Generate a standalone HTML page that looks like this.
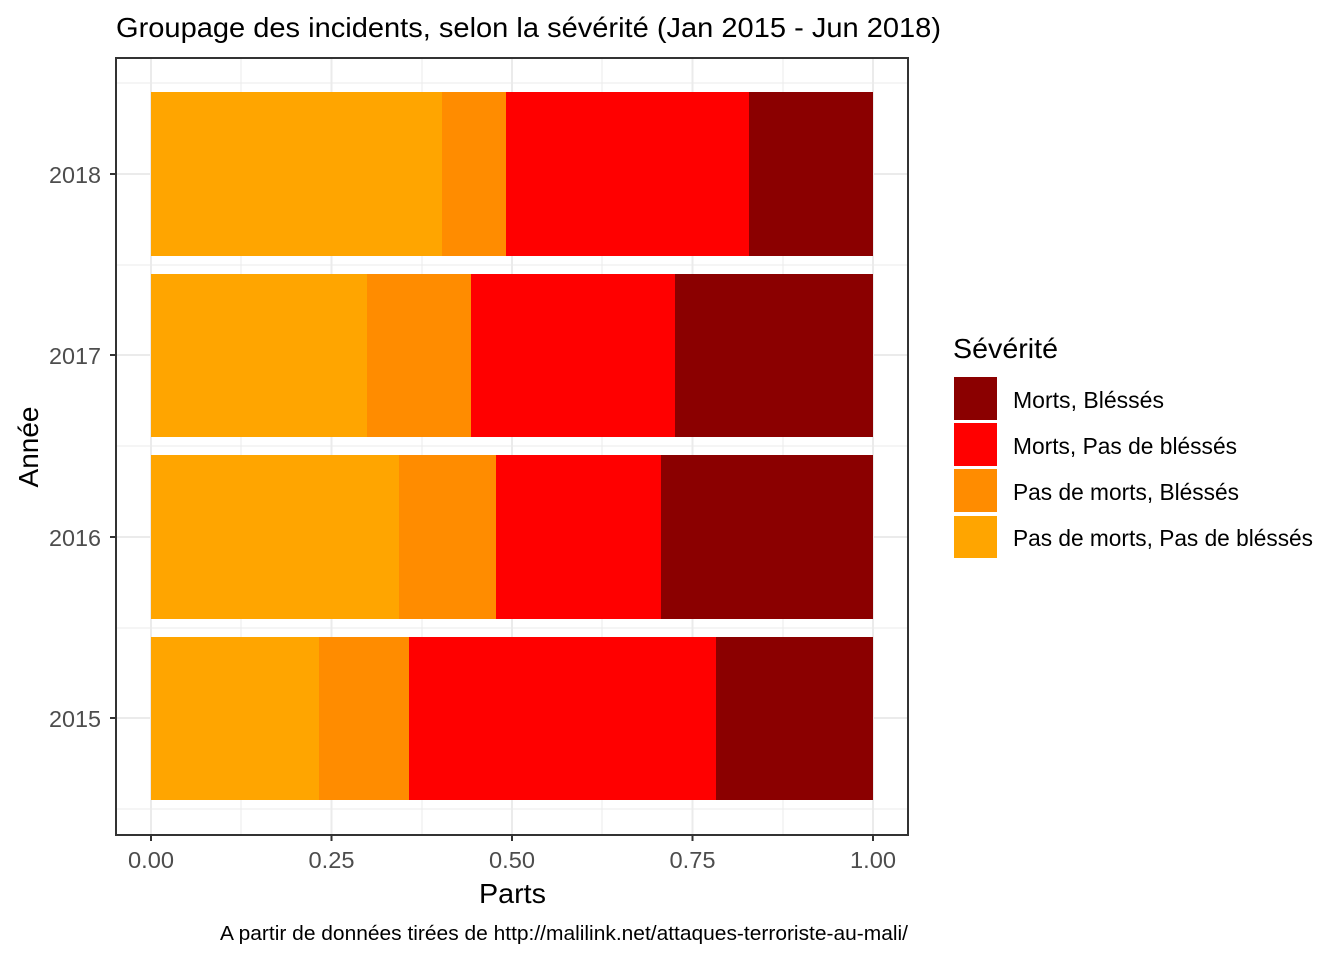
<!DOCTYPE html>
<html><head><meta charset="utf-8"><style>
html,body{margin:0;padding:0;background:#fff}
svg{display:block;font-family:"Liberation Sans",Arial,sans-serif}
</style></head><body>
<svg width="1344" height="960" viewBox="0 0 1344 960" xmlns="http://www.w3.org/2000/svg">
<rect width="1344" height="960" fill="#fff"/>
<text x="116" y="37" font-size="28" fill="#000" textLength="825" lengthAdjust="spacingAndGlyphs">Groupage des incidents, selon la sévérité (Jan 2015 - Jun 2018)</text>
<g stroke="#ebebeb" stroke-width="1">
<line x1="241" y1="58" x2="241" y2="835"/><line x1="422" y1="58" x2="422" y2="835"/>
<line x1="602" y1="58" x2="602" y2="835"/><line x1="783" y1="58" x2="783" y2="835"/>
<line x1="116" y1="83" x2="908" y2="83"/><line x1="116" y1="265" x2="908" y2="265"/>
<line x1="116" y1="446" x2="908" y2="446"/><line x1="116" y1="628" x2="908" y2="628"/>
<line x1="116" y1="809" x2="908" y2="809"/>
</g>
<g stroke="#ebebeb" stroke-width="2">
<line x1="151" y1="58" x2="151" y2="835"/><line x1="331.5" y1="58" x2="331.5" y2="835"/>
<line x1="512" y1="58" x2="512" y2="835"/><line x1="692.5" y1="58" x2="692.5" y2="835"/>
<line x1="873" y1="58" x2="873" y2="835"/>
<line x1="116" y1="174" x2="908" y2="174"/><line x1="116" y1="355" x2="908" y2="355"/>
<line x1="116" y1="537" x2="908" y2="537"/><line x1="116" y1="718" x2="908" y2="718"/>
</g>
<rect x="151" y="92" width="291" height="164" fill="#FFA500"/>
<rect x="442" y="92" width="64" height="164" fill="#FF8C00"/>
<rect x="506" y="92" width="243" height="164" fill="#FF0000"/>
<rect x="749" y="92" width="124" height="164" fill="#8B0000"/>
<rect x="151" y="274" width="216" height="163" fill="#FFA500"/>
<rect x="367" y="274" width="104" height="163" fill="#FF8C00"/>
<rect x="471" y="274" width="204" height="163" fill="#FF0000"/>
<rect x="675" y="274" width="198" height="163" fill="#8B0000"/>
<rect x="151" y="455" width="248" height="164" fill="#FFA500"/>
<rect x="399" y="455" width="97" height="164" fill="#FF8C00"/>
<rect x="496" y="455" width="165" height="164" fill="#FF0000"/>
<rect x="661" y="455" width="212" height="164" fill="#8B0000"/>
<rect x="151" y="637" width="168" height="163" fill="#FFA500"/>
<rect x="319" y="637" width="90" height="163" fill="#FF8C00"/>
<rect x="409" y="637" width="307" height="163" fill="#FF0000"/>
<rect x="716" y="637" width="157" height="163" fill="#8B0000"/>
<rect x="116" y="58" width="792" height="777" fill="none" stroke="#333" stroke-width="2"/>
<g stroke="#333" stroke-width="2">
<line x1="110" y1="174" x2="116" y2="174"/><line x1="110" y1="355" x2="116" y2="355"/>
<line x1="110" y1="537" x2="116" y2="537"/><line x1="110" y1="718" x2="116" y2="718"/>
<line x1="151" y1="835" x2="151" y2="841"/><line x1="331.5" y1="835" x2="331.5" y2="841"/>
<line x1="512" y1="835" x2="512" y2="841"/><line x1="692.5" y1="835" x2="692.5" y2="841"/>
<line x1="873" y1="835" x2="873" y2="841"/>
</g>
<g font-size="23" fill="#4d4d4d">
<text x="49" y="183" textLength="52" lengthAdjust="spacingAndGlyphs">2018</text>
<text x="49" y="364" textLength="52" lengthAdjust="spacingAndGlyphs">2017</text>
<text x="49" y="546" textLength="52" lengthAdjust="spacingAndGlyphs">2016</text>
<text x="49" y="727" textLength="52" lengthAdjust="spacingAndGlyphs">2015</text>
</g>
<g font-size="23" fill="#4d4d4d">
<text x="128" y="868" textLength="46" lengthAdjust="spacingAndGlyphs">0.00</text>
<text x="308.5" y="868" textLength="46" lengthAdjust="spacingAndGlyphs">0.25</text>
<text x="489" y="868" textLength="46" lengthAdjust="spacingAndGlyphs">0.50</text>
<text x="669.5" y="868" textLength="46" lengthAdjust="spacingAndGlyphs">0.75</text>
<text x="850" y="868" textLength="46" lengthAdjust="spacingAndGlyphs">1.00</text>
</g>
<text x="479" y="903" font-size="28" fill="#000" textLength="67" lengthAdjust="spacingAndGlyphs">Parts</text>
<text transform="translate(38,447) rotate(-90)" font-size="28" text-anchor="middle" fill="#000">Année</text>
<text x="220" y="940" font-size="20" fill="#000" textLength="688" lengthAdjust="spacingAndGlyphs">A partir de données tirées de http://malilink.net/attaques-terroriste-au-mali/</text>
<text x="953" y="358" font-size="28" fill="#000" textLength="105" lengthAdjust="spacingAndGlyphs">Sévérité</text>
<rect x="954" y="377" width="43" height="43" fill="#8B0000"/>
<rect x="954" y="423" width="43" height="43" fill="#FF0000"/>
<rect x="954" y="469" width="43" height="43" fill="#FF8C00"/>
<rect x="954" y="516" width="43" height="42" fill="#FFA500"/>
<g font-size="23" fill="#000">
<text x="1013" y="408" textLength="151" lengthAdjust="spacingAndGlyphs">Morts, Bléssés</text>
<text x="1013" y="454" textLength="224" lengthAdjust="spacingAndGlyphs">Morts, Pas de bléssés</text>
<text x="1013" y="500" textLength="226" lengthAdjust="spacingAndGlyphs">Pas de morts, Bléssés</text>
<text x="1013" y="546" textLength="300" lengthAdjust="spacingAndGlyphs">Pas de morts, Pas de bléssés</text>
</g>
</svg>
</body></html>
